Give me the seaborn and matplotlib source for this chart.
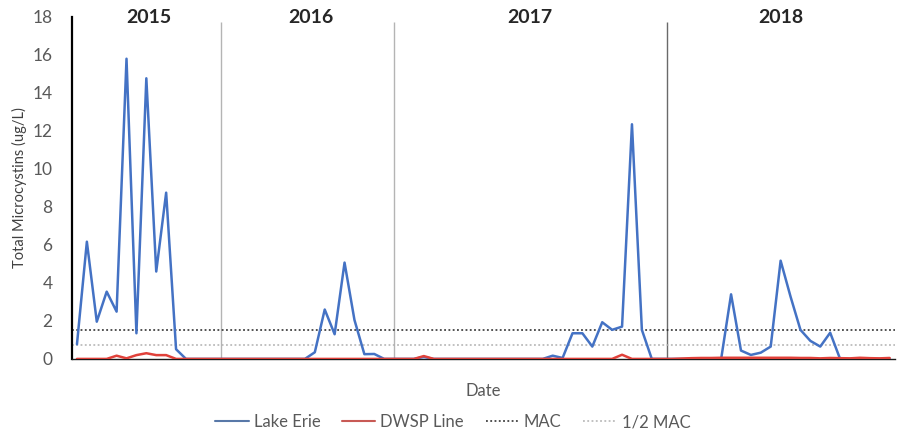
import matplotlib
matplotlib.use("Agg")
import matplotlib.pyplot as plt
from matplotlib.lines import Line2D
import numpy as np
import pandas as pd
import seaborn as sns

# Sample sequence (one entry per sampling event, 2015-2018)
lake_erie = [
    0.77, 6.17, 1.96, 3.54, 2.49, 15.8, 1.35, 14.77, 4.6, 8.75, 0.51, 0.0,
    0.0, 0.0, 0.0, 0.0, 0.0, 0.0, 0.0, 0.0, 0.0, 0.0, 0.0, 0.0,
    0.35, 2.6, 1.3, 5.07, 2.05, 0.25, 0.26, 0.0,
    0.0, 0.0, 0.0, 0.1,
    0.0, 0.0, 0.0, 0.0, 0.0, 0.0, 0.0, 0.0, 0.0, 0.0, 0.0, 0.0,
    0.17, 0.05, 1.35, 1.35, 0.65, 1.93, 1.53, 1.7, 12.35, 1.53, 0.0,
    0.0, 0.0, 0.0, 0.0, 0.0, 0.0, 0.0,
    3.4, 0.44, 0.21, 0.33, 0.65, 5.17, 3.28, 1.53, 0.95, 0.65, 1.38, 0.0,
    0.0, 0.0, 0.0, 0.0, 0.0,
]
dwsp_line = [
    0.0, 0.0, 0.0, 0.0, 0.17, 0.03, 0.2, 0.3, 0.2, 0.2, 0.0, 0.0,
    0.0, 0.0, 0.0, 0.0, 0.0, 0.0, 0.0, 0.0, 0.0, 0.0, 0.0, 0.0,
    0.0, 0.0, 0.0, 0.0, 0.0, 0.0, 0.0, 0.0,
    0.0, 0.0, 0.0, 0.15,
    0.0, 0.0, 0.0, 0.0, 0.0, 0.0, 0.0, 0.0, 0.0, 0.0, 0.0, 0.0,
    0.0, 0.0, 0.0, 0.0, 0.0, 0.0, 0.0, 0.22, 0.0, 0.0, 0.0,
    0.0, 0.0, 0.02, 0.04, 0.05, 0.05, 0.06,
    0.06, 0.06, 0.06, 0.06, 0.06, 0.06, 0.06, 0.05, 0.05, 0.03, 0.05, 0.04,
    0.03, 0.06, 0.04, 0.03, 0.05,
]
mac = 1.5
half_mac = 0.75

years = ["2015", "2016", "2017", "2018"]
year_label_pos = [7.3, 23.6, 45.7, 71.0]
year_breaks = [14.5, 32.0, 59.5]

sns.set_style("white")
plt.rcParams["font.family"] = ["Lato", "DejaVu Sans"]

n = len(lake_erie)
df = pd.DataFrame({
    "sample": np.arange(n),
    "Lake Erie": lake_erie,
    "DWSP Line": dwsp_line,
})

fig = plt.figure(figsize=(9.0, 4.34), dpi=100)
ax = fig.add_axes([0.08, 0.173, 0.914, 0.788])

blue = "#4472C4"
red = "#E0413A"

sns.lineplot(data=df, x="sample", y="Lake Erie", ax=ax, color=blue, lw=1.8, zorder=3)
sns.lineplot(data=df, x="sample", y="DWSP Line", ax=ax, color=red, lw=1.8, zorder=4)

ax.axhline(mac, color="#222222", lw=1.1, ls=(0, (1.2, 1.6)), zorder=2)
ax.axhline(half_mac, color="#b0b0b0", lw=1.1, ls=(0, (1.2, 1.6)), zorder=2)

break_colors = ["#b4b4b4", "#b4b4b4", "#6a6a6a"]
for xb, c in zip(year_breaks, break_colors):
    ax.vlines(xb, 0, 17.75, color=c, lw=1.0, zorder=1)

for yr, xp in zip(years, year_label_pos):
    ax.text(xp, 17.95, yr, ha="center", va="center", fontsize=14,
            fontweight="bold", color="#262626")

ax.set_xlim(-0.5, n - 0.5)
ax.set_ylim(0, 18)
ax.set_yticks(np.arange(0, 19, 2))
ax.set_xticks([])
ax.tick_params(axis="y", length=0, pad=14, labelsize=12.5, labelcolor="#595959")
ax.set_ylabel("Total Microcystins (ug/L)", fontsize=10.5, color="#404040", labelpad=4)
ax.set_xlabel("Date", fontsize=12, color="#595959", labelpad=17)

for side in ["top", "right"]:
    ax.spines[side].set_visible(False)
ax.spines["left"].set_color("black")
ax.spines["left"].set_linewidth(1.6)
ax.spines["bottom"].set_color("#1a1a1a")
ax.spines["bottom"].set_linewidth(1.0)

handles = [
    Line2D([], [], color="#5878a8", lw=1.5),
    Line2D([], [], color="#c85a55", lw=1.5),
    Line2D([], [], color="#222222", lw=1.1, ls=(0, (1.2, 1.6))),
    Line2D([], [], color="#b0b0b0", lw=1.1, ls=(0, (1.2, 1.6))),
]
labels = ["Lake Erie", "DWSP Line", "MAC", "1/2 MAC"]
fig.legend(handles, labels, loc="center", bbox_to_anchor=(0.503, 0.027), ncol=4,
           frameon=False, fontsize=12, handlelength=2.0, handletextpad=0.3,
           columnspacing=1.3, labelcolor="#595959")

fig.savefig("out.png", dpi=100)
